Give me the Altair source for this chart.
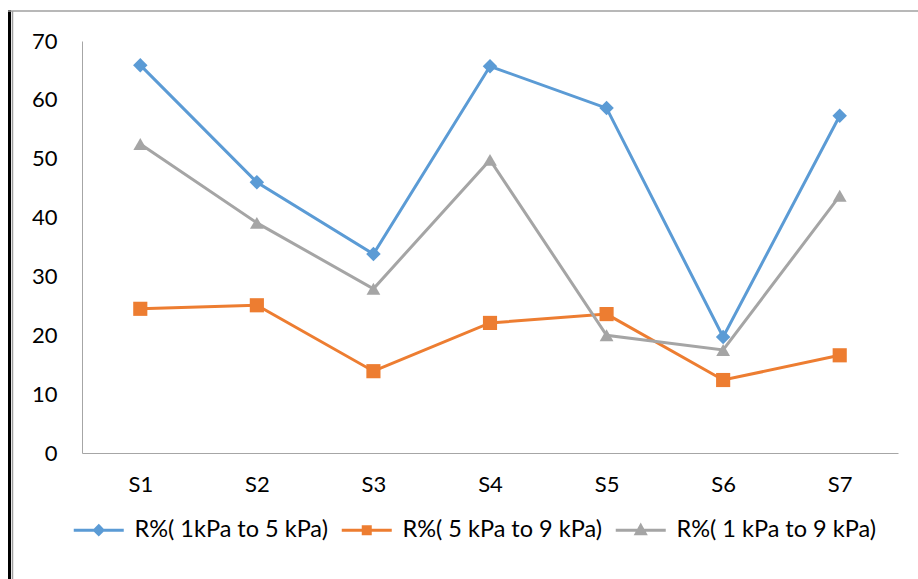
import altair as alt
import pandas as pd

samples = ["S1", "S2", "S3", "S4", "S5", "S6", "S7"]
r_1_5 = [65.9, 46.0, 33.8, 65.7, 58.6, 19.7, 57.3]
r_5_9 = [24.5, 25.1, 13.9, 22.1, 23.6, 12.4, 16.6]
r_1_9 = [52.5, 39.1, 27.9, 49.8, 20.0, 17.5, 43.7]
series = ["R%( 1kPa to 5 kPa)", "R%( 5 kPa to 9 kPa)", "R%( 1 kPa to 9 kPa)"]
colors = ["#5B9BD5", "#ED7D31", "#A5A5A5"]
y_ticks = [0, 10, 20, 30, 40, 50, 60, 70]

rows = []
for name, vals in zip(series, [r_1_5, r_5_9, r_1_9]):
    for s, v in zip(samples, vals):
        rows.append({"sample": s, "value": v, "series": name})
df = pd.DataFrame(rows)

FONT = "Lato"
FS = 22
LFS = 23.5
TXT = "#000000"
W, H = 816, 412
L, T = 82, 41

color_scale = alt.Scale(domain=series, range=colors)
x_enc = alt.X("sample:N", sort=samples, title=None,
              scale=alt.Scale(type="point", padding=0.5),
              axis=alt.Axis(labelAngle=0, labelPadding=21, ticks=False,
                            domainColor="#A6A6A6", labelFontSize=FS,
                            labelColor=TXT, labelFont=FONT))
y_enc = alt.Y("value:Q", title=None,
              scale=alt.Scale(domain=[0, 70], nice=False, zero=True),
              axis=alt.Axis(values=y_ticks, ticks=False, grid=False,
                            domainColor="#A6A6A6", labelPadding=25,
                            labelFontSize=FS, labelColor=TXT,
                            labelFont=FONT))

base = alt.Chart(df)

lines = base.mark_line(strokeWidth=3).encode(
    x=x_enc, y=y_enc,
    color=alt.Color("series:N", scale=color_scale, legend=None),
    detail="series:N",
)

points = base.mark_point(filled=True, opacity=1).encode(
    x=x_enc, y=y_enc,
    color=alt.Color("series:N", scale=color_scale, legend=None),
    shape=alt.Shape("series:N",
                    scale=alt.Scale(domain=series,
                                    range=["diamond", "square", "triangle-up"]),
                    legend=None),
    size=alt.Size("series:N",
                  scale=alt.Scale(domain=series, range=[210, 190, 240]),
                  legend=None),
)

legend_paths = [
    "M-1,0H4M1.5,-0.42L1.92,0L1.5,0.42L1.08,0Z",
    "M-1,0H4M1.15,-0.35H1.85V0.35H1.15Z",
    "M-1,0H4M1.5,-0.45L1.95,0.35H1.05Z",
]


def make_legend():
    return alt.Legend(
        orient="none", legendX=-10, legendY=477,
        direction="horizontal", columns=3,
        symbolOpacity=1, symbolStrokeWidth=3,
        symbolSize=400, labelOffset=39,
        columnPadding=7, labelLimit=400,
        labelFontSize=LFS, labelFont=FONT,
        labelColor=TXT)


legend_layer = base.mark_point(filled=True, opacity=0, strokeWidth=3).encode(
    x=x_enc, y=y_enc,
    color=alt.Color("series:N", scale=color_scale, sort=series, title=None,
                    legend=make_legend()),
    stroke=alt.Stroke("series:N", scale=color_scale, sort=series, title=None,
                      legend=make_legend()),
    shape=alt.Shape("series:N", sort=series, title=None,
                    scale=alt.Scale(domain=series, range=legend_paths),
                    legend=make_legend()),
)

frame_df = pd.DataFrame({"a": [0]})
frame = alt.Chart(frame_df)
black_line = frame.mark_rule(color="black", strokeWidth=3).encode(
    x=alt.value(9.5 - L), y=alt.value(10 - T), y2=alt.value(579 - T + 5))
gray_line = frame.mark_rule(color="#A0A0A0", strokeWidth=1.5).encode(
    x=alt.value(12.5 - L), y=alt.value(11 - T), y2=alt.value(579 - T + 5))
top_line = frame.mark_rule(color="#A0A0A0", strokeWidth=1.5).encode(
    x=alt.value(8 - L), x2=alt.value(918 - L + 5), y=alt.value(11 - T))

chart = alt.layer(lines, points, legend_layer, black_line, gray_line, top_line).resolve_scale(
    shape="independent", size="independent", color="independent",
    stroke="independent"
).properties(
    width=W, height=H,
    autosize=alt.AutoSizeParams(type="none"),
    padding={"left": L, "top": T, "right": 918 - L - W, "bottom": 579 - T - H},
    background="white",
).configure_view(stroke=None)

chart.save("out.html", embed_options={"renderer": "svg", "actions": False})
